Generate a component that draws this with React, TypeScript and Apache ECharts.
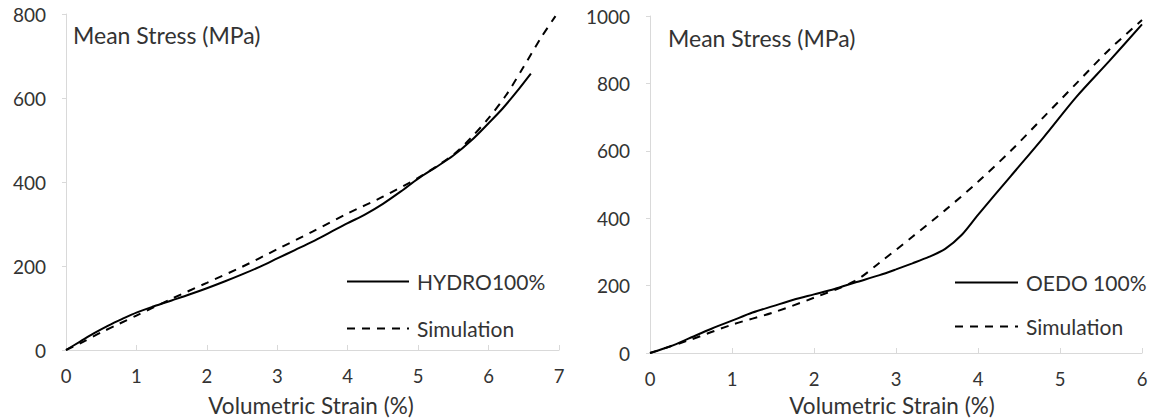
import React, { useEffect, useRef } from "react";
import * as echarts from "echarts";

// Left panel: hydrostatic test
const hydroStrain = [0, 0.2, 0.4, 0.6, 0.8, 1.0, 1.25, 1.5, 1.75, 2.0, 2.25, 2.5, 2.75, 3.0, 3.25, 3.5, 3.75, 4.0, 4.25, 4.5, 4.75, 5.0, 5.25, 5.5, 5.75, 6.0, 6.2, 6.4, 6.6];
const hydroStress = [0, 20, 40, 58, 74, 89, 104, 118, 132, 147, 163, 180, 198, 218, 238, 258, 280, 302, 323, 348, 377, 408, 435, 463, 498, 540, 575, 615, 658];
const hydroSimStrain = [0, 0.25, 0.5, 0.75, 1.0, 1.5, 2.0, 2.5, 3.0, 3.5, 4.0, 4.5, 5.0, 5.5, 5.75, 6.0, 6.25, 6.5, 6.75, 6.95];
const hydroSimStress = [0, 20, 42, 62, 82, 122, 160, 198, 240, 282, 325, 365, 410, 465, 505, 552, 607, 675, 745, 795];

// Right panel: oedometric test
const oedoStrain = [0, 0.25, 0.5, 0.75, 1.0, 1.25, 1.5, 1.75, 2.0, 2.25, 2.5, 2.8, 3.0, 3.2, 3.4, 3.6, 3.8, 4.0, 4.4, 4.8, 5.2, 5.6, 6.0];
const oedoStress = [0, 20, 46, 72, 96, 120, 139, 158, 174, 190, 209, 231, 248, 266, 285, 309, 350, 410, 525, 640, 760, 866, 975];
const oedoSimStrain = [0, 0.5, 1.0, 1.5, 2.0, 2.5, 2.8, 3.2, 3.6, 4.0, 4.4, 4.8, 5.2, 5.6, 6.0];
const oedoSimStress = [0, 40, 84, 120, 164, 214, 268, 345, 424, 508, 600, 700, 800, 900, 988];

const leftXTicks = { min: 0, max: 7, interval: 1 };
const leftYTicks = { min: 0, max: 800, interval: 200 };
const rightXTicks = { min: 0, max: 6, interval: 1 };
const rightYTicks = { min: 0, max: 1000, interval: 200 };

const yTitle = "Mean Stress (MPa)";
const xTitle = "Volumetric Strain (%)";
const FONT = "Lato, 'Open Sans', sans-serif";
const TEXT = "#333333";
const AXIS = "#d9d9d9";

const pairs = (xs: number[], ys: number[]) => xs.map((x, i) => [x, ys[i]]);

function xAxisCfg(grid: number, t: { min: number; max: number; interval: number }) {
  return {
    gridIndex: grid,
    type: "value",
    ...t,
    axisLine: { show: true, lineStyle: { color: AXIS, width: 1 } },
    axisTick: { show: true, inside: true, length: 5, lineStyle: { color: AXIS } },
    splitLine: { show: false },
    axisLabel: { margin: 17, fontSize: 18.5, lineHeight: 18, color: TEXT, fontFamily: FONT, formatter: (v: number) => String(v) },
  };
}
function yAxisCfg(grid: number, t: { min: number; max: number; interval: number }) {
  return {
    gridIndex: grid,
    type: "value",
    ...t,
    axisLine: { show: true, lineStyle: { color: AXIS, width: 1 } },
    axisTick: { show: true, inside: false, length: 4, lineStyle: { color: AXIS } },
    splitLine: { show: false },
    axisLabel: { margin: 20, fontSize: 19, color: TEXT, fontFamily: FONT, formatter: (v: number) => String(v) },
  };
}

function lineSeries(name: string, idx: number, data: number[][], dashed: boolean) {
  return {
    name,
    type: "line",
    xAxisIndex: idx,
    yAxisIndex: idx,
    data,
    symbol: "none",
    smooth: 0.3,
    lineStyle: { color: "#000", width: 2, type: dashed ? [8, 7] : "solid" },
    itemStyle: { color: "#000" },
  };
}

const legendText = { fontSize: 21, color: TEXT, fontFamily: FONT, padding: [0, 0, 0, 3] };

export default function App() {
  const ref = useRef<HTMLDivElement>(null);
  useEffect(() => {
    document.body.style.margin = "0";
    const chart = echarts.init(ref.current!, null, { renderer: "svg" });
    chart.setOption({
      animation: false,
      grid: [
        { left: 66, top: 14, width: 493, height: 336 },
        { left: 650, top: 16, width: 492, height: 337 },
      ],
      xAxis: [xAxisCfg(0, leftXTicks), xAxisCfg(1, rightXTicks)],
      yAxis: [yAxisCfg(0, leftYTicks), yAxisCfg(1, rightYTicks)],
      legend: [
        {
          data: ["HYDRO100%", "Simulation"],
          orient: "vertical",
          left: 346,
          top: 271,
          padding: 0,
          itemWidth: 62,
          itemHeight: 14,
          itemGap: 26,
          selectedMode: false,
          itemStyle: { opacity: 0 },
          textStyle: legendText,
        },
        {
          data: ["OEDO 100%", "Simulation"],
          orient: "vertical",
          left: 954,
          top: 272,
          padding: 0,
          itemWidth: 63,
          itemHeight: 14,
          itemGap: 23,
          selectedMode: false,
          itemStyle: { opacity: 0 },
          textStyle: legendText,
        },
      ],
      graphic: [
        { type: "text", left: 73, top: 23, style: { text: yTitle, fontSize: 23, fill: TEXT, fontFamily: FONT } },
        { type: "text", left: 668, top: 26, style: { text: yTitle, fontSize: 23, fill: TEXT, fontFamily: FONT } },
        { type: "text", x: 311, y: 405, style: { text: xTitle, fontSize: 22.5, lineHeight: 22, fill: TEXT, fontFamily: FONT, align: "center", verticalAlign: "middle" } },
        { type: "text", x: 892, y: 405, style: { text: xTitle, fontSize: 22.5, lineHeight: 22, fill: TEXT, fontFamily: FONT, align: "center", verticalAlign: "middle" } },
      ],
      series: [
        lineSeries("HYDRO100%", 0, pairs(hydroStrain, hydroStress), false),
        lineSeries("Simulation", 0, pairs(hydroSimStrain, hydroSimStress), true),
        lineSeries("OEDO 100%", 1, pairs(oedoStrain, oedoStress), false),
        lineSeries("Simulation", 1, pairs(oedoSimStrain, oedoSimStress), true),
      ],
    });
    return () => chart.dispose();
  }, []);
  return <div ref={ref} style={{ width: 1153, height: 418 }} />;
}
